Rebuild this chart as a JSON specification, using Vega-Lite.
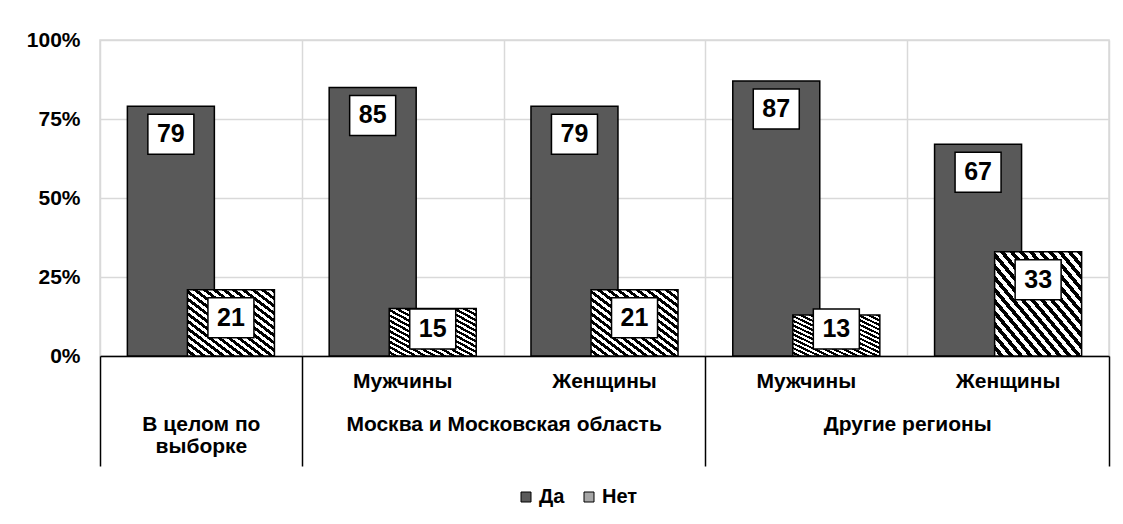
{
  "$schema": "https://vega.github.io/schema/vega-lite/v6.json",
  "width": 1009,
  "height": 316,
  "autosize": {"type": "none"},
  "padding": {"left": 100, "top": 40, "right": 14, "bottom": 168},
  "background": "white",
  "config": {"view": {"stroke": "#d9d9d9", "strokeWidth": 1.5}, "font": "Liberation Sans"},
  "layer": [
    {
      "data": {
        "values": [
          {"segment": "В целом по выборке", "answer": "Да", "value": 79},
          {"segment": "В целом по выборке", "answer": "Нет", "value": 21},
          {"segment": "Москва и Московская область — Мужчины", "answer": "Да", "value": 85},
          {"segment": "Москва и Московская область — Мужчины", "answer": "Нет", "value": 15},
          {"segment": "Москва и Московская область — Женщины", "answer": "Да", "value": 79},
          {"segment": "Москва и Московская область — Женщины", "answer": "Нет", "value": 21},
          {"segment": "Другие регионы — Мужчины", "answer": "Да", "value": 87},
          {"segment": "Другие регионы — Мужчины", "answer": "Нет", "value": 13},
          {"segment": "Другие регионы — Женщины", "answer": "Да", "value": 67},
          {"segment": "Другие регионы — Женщины", "answer": "Нет", "value": 33}
        ]
      },
      "layer": [
        {
          "transform": [{"filter": "datum.answer === 'Да'"}],
          "mark": {"type": "bar", "width": 87, "stroke": "black", "strokeWidth": 1.5},
          "encoding": {
            "x": {
              "field": "segment", "type": "nominal",
              "scale": {"domain": ["В целом по выборке", "Москва и Московская область — Мужчины", "Москва и Московская область — Женщины", "Другие регионы — Мужчины", "Другие регионы — Женщины"], "paddingInner": 0, "paddingOuter": 0},
              "axis": {
                "title": null, "orient": "bottom", "ticks": false, "tickSize": 0, "grid": false,
                "domain": true, "domainColor": "black", "domainWidth": 1.5,
                "labelExpr": "indexof(datum.label, ' — ') >= 0 ? split(datum.label, ' — ')[1] : ''",
                "labelFont": "Liberation Sans", "labelFontWeight": "bold", "labelFontSize": 21, "labelColor": "black",
                "labelPadding": 14, "labelBaseline": "top", "labelAngle": 0, "labelLimit": 0
              }
            },
            "xOffset": {"field": "answer", "type": "nominal", "scale": {"domain": ["Да", "Нет"], "paddingInner": 0, "paddingOuter": 0.68}},
            "y": {
              "field": "value", "type": "quantitative",
              "scale": {"domain": [0, 100], "nice": false},
              "axis": {
                "title": null, "values": [0, 25, 50, 75, 100], "labelExpr": "datum.value + '%'",
                "domain": false, "ticks": false, "grid": true, "gridColor": "#d9d9d9", "gridWidth": 1.5,
                "labelFont": "Liberation Sans", "labelFontWeight": "bold", "labelFontSize": 21, "labelColor": "black", "labelPadding": 20
              }
            },
            "color": {
              "field": "answer", "type": "nominal",
              "scale": {"domain": ["Да", "Нет"], "range": ["#595959", "#a6a6a6"]},
              "legend": {
                "title": null, "orient": "none", "legendX": 416, "legendY": 447, "direction": "horizontal",
                "symbolType": "square", "symbolSize": 100, "symbolStrokeColor": "black", "symbolStrokeWidth": 1, "symbolOpacity": 1,
                "labelFont": "Liberation Sans", "labelFontSize": 20, "labelFontWeight": "bold", "labelColor": "black",
                "labelOffset": 3, "columnPadding": 14
              }
            }
          }
        },
        {
          "transform": [{"filter": "datum.answer === 'Нет'"}],
          "mark": {
            "type": "bar", "width": 87, "stroke": "black", "strokeWidth": 1.5,
            "fill": {
              "gradient": "linear", "x1": 0, "y1": 1, "x2": 1, "y2": 0,
              "stops": [
                {"offset": 0, "color": "white"}, {"offset": 0.02778, "color": "white"}, {"offset": 0.02778, "color": "black"}, {"offset": 0.05556, "color": "black"},
                {"offset": 0.05556, "color": "white"}, {"offset": 0.08333, "color": "white"}, {"offset": 0.08333, "color": "black"}, {"offset": 0.11111, "color": "black"},
                {"offset": 0.11111, "color": "white"}, {"offset": 0.13889, "color": "white"}, {"offset": 0.13889, "color": "black"}, {"offset": 0.16667, "color": "black"},
                {"offset": 0.16667, "color": "white"}, {"offset": 0.19444, "color": "white"}, {"offset": 0.19444, "color": "black"}, {"offset": 0.22222, "color": "black"},
                {"offset": 0.22222, "color": "white"}, {"offset": 0.25, "color": "white"}, {"offset": 0.25, "color": "black"}, {"offset": 0.27778, "color": "black"},
                {"offset": 0.27778, "color": "white"}, {"offset": 0.30556, "color": "white"}, {"offset": 0.30556, "color": "black"}, {"offset": 0.33333, "color": "black"},
                {"offset": 0.33333, "color": "white"}, {"offset": 0.36111, "color": "white"}, {"offset": 0.36111, "color": "black"}, {"offset": 0.38889, "color": "black"},
                {"offset": 0.38889, "color": "white"}, {"offset": 0.41667, "color": "white"}, {"offset": 0.41667, "color": "black"}, {"offset": 0.44444, "color": "black"},
                {"offset": 0.44444, "color": "white"}, {"offset": 0.47222, "color": "white"}, {"offset": 0.47222, "color": "black"}, {"offset": 0.5, "color": "black"},
                {"offset": 0.5, "color": "white"}, {"offset": 0.52778, "color": "white"}, {"offset": 0.52778, "color": "black"}, {"offset": 0.55556, "color": "black"},
                {"offset": 0.55556, "color": "white"}, {"offset": 0.58333, "color": "white"}, {"offset": 0.58333, "color": "black"}, {"offset": 0.61111, "color": "black"},
                {"offset": 0.61111, "color": "white"}, {"offset": 0.63889, "color": "white"}, {"offset": 0.63889, "color": "black"}, {"offset": 0.66667, "color": "black"},
                {"offset": 0.66667, "color": "white"}, {"offset": 0.69444, "color": "white"}, {"offset": 0.69444, "color": "black"}, {"offset": 0.72222, "color": "black"},
                {"offset": 0.72222, "color": "white"}, {"offset": 0.75, "color": "white"}, {"offset": 0.75, "color": "black"}, {"offset": 0.77778, "color": "black"},
                {"offset": 0.77778, "color": "white"}, {"offset": 0.80556, "color": "white"}, {"offset": 0.80556, "color": "black"}, {"offset": 0.83333, "color": "black"},
                {"offset": 0.83333, "color": "white"}, {"offset": 0.86111, "color": "white"}, {"offset": 0.86111, "color": "black"}, {"offset": 0.88889, "color": "black"},
                {"offset": 0.88889, "color": "white"}, {"offset": 0.91667, "color": "white"}, {"offset": 0.91667, "color": "black"}, {"offset": 0.94444, "color": "black"},
                {"offset": 0.94444, "color": "white"}, {"offset": 0.97222, "color": "white"}, {"offset": 0.97222, "color": "black"}, {"offset": 1, "color": "black"}
              ]
            }
          },
          "encoding": {
            "x": {"field": "segment", "type": "nominal"},
            "xOffset": {"field": "answer", "type": "nominal"},
            "y": {"field": "value", "type": "quantitative"}
          }
        },
        {
          "mark": {
            "type": "point", "shape": "M-1.15,-1H1.15V1H-1.15Z", "size": 1600,
            "filled": true, "fill": "white", "stroke": "black", "strokeWidth": 1.5, "opacity": 1,
            "yOffset": {"expr": "min(28, datum.value * 3.16 - 27)"}
          },
          "encoding": {
            "x": {"field": "segment", "type": "nominal"},
            "xOffset": {"field": "answer", "type": "nominal"},
            "y": {"field": "value", "type": "quantitative"}
          }
        },
        {
          "mark": {
            "type": "text", "font": "Liberation Sans", "fontSize": 25, "fontWeight": "bold", "color": "black",
            "baseline": "middle", "align": "center",
            "dy": {"expr": "min(28, datum.value * 3.16 - 27)"}
          },
          "encoding": {
            "x": {"field": "segment", "type": "nominal"},
            "xOffset": {"field": "answer", "type": "nominal"},
            "y": {"field": "value", "type": "quantitative"},
            "text": {"field": "value", "type": "quantitative"}
          }
        }
      ]
    },
    {
      "data": {
        "values": [
          {"group": "В целом по выборке", "start": 0, "end": 1},
          {"group": "Москва и Московская область", "start": 1, "end": 3},
          {"group": "Другие регионы", "start": 3, "end": 5}
        ]
      },
      "mark": {"type": "rect", "opacity": 0},
      "encoding": {
        "x": {
          "field": "start", "type": "quantitative",
          "scale": {"domain": [0, 5], "nice": false, "zero": false},
          "axis": {
            "title": null, "orient": "bottom", "values": [0, 0.5, 1, 2, 3, 4, 5],
            "domain": false,
            "grid": true, "gridColor": "#d9d9d9", "gridWidth": 1.5,
            "gridOpacity": {"condition": {"test": "datum.value % 1 === 0", "value": 1}, "value": 0},
            "ticks": true, "tickSize": 110, "tickColor": "black", "tickWidth": 1.5,
            "tickOpacity": {"condition": {"test": "datum.value === 0 || datum.value === 1 || datum.value === 3 || datum.value === 5", "value": 1}, "value": 0},
            "labelExpr": "datum.value === 0.5 ? ['В целом по', 'выборке'] : datum.value === 2 ? 'Москва и Московская область' : datum.value === 4 ? 'Другие регионы' : ''",
            "labelFont": "Liberation Sans", "labelFontWeight": "bold", "labelFontSize": 21, "labelColor": "black",
            "labelBaseline": "top", "labelPadding": -53, "labelLineHeight": 22, "labelAngle": 0, "labelAlign": "center",
            "labelFlush": false, "labelOverlap": false, "labelLimit": 0, "labelBound": false
          }
        },
        "x2": {"field": "end"}
      }
    }
  ],
  "resolve": {"scale": {"x": "independent"}, "axis": {"x": "independent"}}
}
